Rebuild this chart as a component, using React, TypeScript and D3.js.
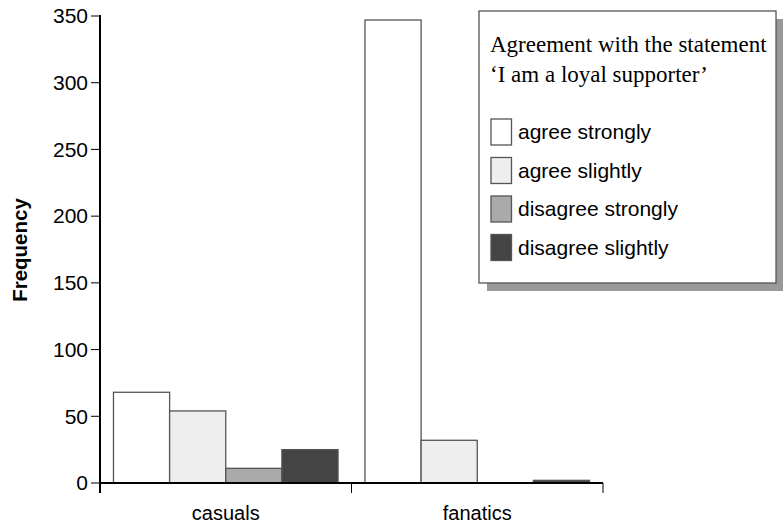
import React from "react";
import * as d3 from "d3";

const categories = ["casuals", "fanatics"];
const seriesNames = ["agree strongly", "agree slightly", "disagree strongly", "disagree slightly"];
const seriesColors = ["#ffffff", "#eeeeee", "#aaaaaa", "#444444"];
const casualsValues = [68, 54, 11, 25];
const fanaticsValues = [347, 32, 0, 2];
const yTicks = [0, 50, 100, 150, 200, 250, 300, 350];
const legendTitle = ["Agreement with the statement", "\u2018I am a loyal supporter\u2019"];

const W = 783, H = 525;
const left = 100, right = 603, top = 16, bottom = 483;

export default function App() {
  const values = [casualsValues, fanaticsValues];
  const x0 = d3.scaleBand<string>().domain(categories).range([left, right]).paddingInner(0).paddingOuter(0);
  const x1 = d3.scaleBand<string>().domain(seriesNames).range([0, x0.bandwidth()]).paddingOuter(0.24).paddingInner(0);
  const y = d3.scaleLinear().domain([0, 350]).range([bottom, top]);
  const sans = "'Liberation Sans', Arial, sans-serif";
  const serif = "'Liberation Serif', 'Times New Roman', serif";
  return (
    <svg width={W} height={H} style={{ position: "absolute", left: 0, top: 0, background: "#fff" }}>
      <rect x={0} y={0} width={W} height={H} fill="#fff" />
      {/* bars */}
      {categories.map((c, ci) => (
        <g key={c}>
          {seriesNames.map((s, si) => {
            const v = values[ci][si];
            if (v <= 0) return null;
            return (
              <rect key={s} x={(x0(c) as number) + (x1(s) as number)} y={y(v)} width={x1.bandwidth()} height={bottom - y(v)}
                fill={seriesColors[si]} stroke="#555" strokeWidth={1.3} />
            );
          })}
        </g>
      ))}
      {/* y axis */}
      <line x1={left} x2={left} y1={top - 1} y2={bottom + 10} stroke="#000" strokeWidth={2} />
      {yTicks.map((t) => (
        <g key={t}>
          <line x1={left - 9} x2={left} y1={y(t)} y2={y(t)} stroke="#000" strokeWidth={1} />
          <text x={left - 12} y={y(t)} dy="0.35em" textAnchor="end" fontFamily={sans} fontSize={21} fill="#000">{t}</text>
        </g>
      ))}
      {/* x axis */}
      <line x1={left} x2={right} y1={bottom} y2={bottom} stroke="#000" strokeWidth={2.2} />
      {[left, ...categories.map((c) => (x0(c) as number) + x0.bandwidth())].map((xx, i) => (
        <line key={i} x1={xx} x2={xx} y1={bottom} y2={bottom + 10} stroke="#000" strokeWidth={1} />
      ))}
      {categories.map((c) => (
        <text key={c} x={(x0(c) as number) + x0.bandwidth() / 2} y={520} textAnchor="middle" fontFamily={sans} fontSize={20} fill="#000">{c}</text>
      ))}
      <text transform={`translate(27,250) rotate(-90)`} textAnchor="middle" fontFamily={sans} fontWeight="bold" fontSize={20.5} fill="#000">Frequency</text>
      {/* legend */}
      <rect x={487} y={19} width={297} height={272} fill="#999" />
      <rect x={479} y={11} width={297} height={272} fill="#fff" stroke="#555" strokeWidth={1.3} />
      {legendTitle.map((t, i) => (
        <text key={i} x={490} y={52 + i * 30} fontFamily={serif} fontSize={23} fill="#000">{t}</text>
      ))}
      {seriesNames.map((s, i) => (
        <g key={s}>
          <rect x={491} y={119 + i * 38.5} width={20.5} height={26} fill={seriesColors[i]} stroke="#555" strokeWidth={1.3} />
          <text x={518} y={132 + i * 38.5} dy="0.35em" fontFamily={sans} fontSize={21} fill="#000">{s}</text>
        </g>
      ))}
    </svg>
  );
}
